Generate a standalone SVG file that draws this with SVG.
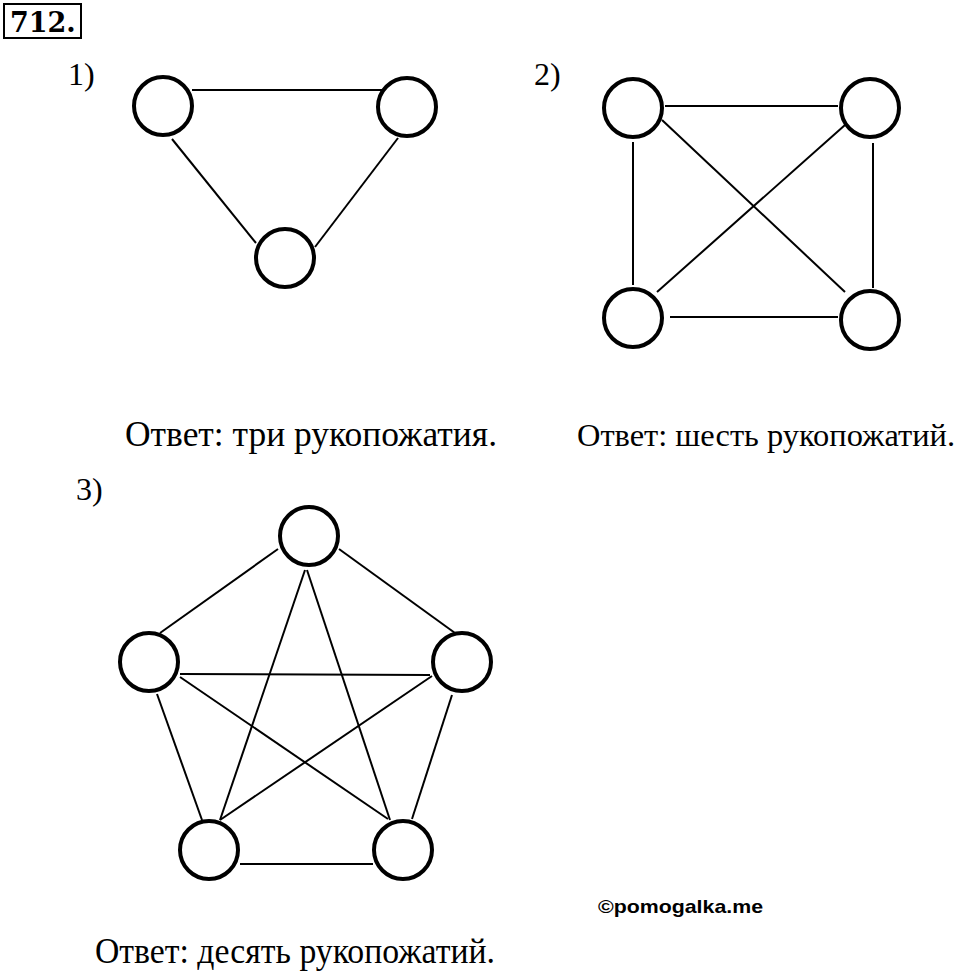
<svg xmlns="http://www.w3.org/2000/svg" width="960" height="972" viewBox="0 0 960 972">
<style>
.node{fill:#fff;stroke:#000;stroke-width:4}
.edge{stroke:#000;stroke-width:2;fill:none}
.lbl{font-family:"Liberation Serif","Times New Roman",serif;font-size:32px;fill:#000}
.ans{font-family:"Liberation Serif","Times New Roman",serif;font-size:35px;fill:#000}
</style>
<rect x="0" y="0" width="960" height="972" fill="#fff"/>
<g id="title">
<rect x="4" y="4" width="77" height="34" fill="none" stroke="#000" stroke-width="2"/>
<text x="10" y="32" font-family="DejaVu Serif, serif" font-weight="bold" font-size="27" fill="#000">712.</text>
</g>
<text class="lbl" x="68" y="85">1)</text>
<text class="lbl" x="534" y="85">2)</text>
<text class="lbl" x="76" y="500">3)</text>
<g id="connectors">
<line class="edge" x1="192" y1="90" x2="382" y2="90"/>
<line class="edge" x1="172" y1="139" x2="256" y2="243"/>
<line class="edge" x1="398" y1="138" x2="315" y2="247"/>
<line class="edge" x1="665" y1="106" x2="838" y2="106"/>
<line class="edge" x1="670" y1="317" x2="838" y2="317"/>
<line class="edge" x1="633" y1="142" x2="633" y2="285"/>
<line class="edge" x1="873" y1="143" x2="873" y2="288"/>
<line class="edge" x1="662" y1="120" x2="845" y2="292"/>
<line class="edge" x1="845" y1="125" x2="657" y2="292"/>
<line class="edge" x1="278" y1="549" x2="160" y2="633"/>
<line class="edge" x1="339" y1="549" x2="455" y2="633"/>
<line class="edge" x1="305" y1="570" x2="220" y2="820"/>
<line class="edge" x1="307" y1="570" x2="390" y2="820"/>
<line class="edge" x1="180" y1="674" x2="430" y2="675"/>
<line class="edge" x1="180" y1="677" x2="388" y2="819"/>
<line class="edge" x1="432" y1="676" x2="220" y2="820"/>
<line class="edge" x1="157" y1="694" x2="202" y2="820"/>
<line class="edge" x1="452" y1="695" x2="412" y2="819"/>
<line class="edge" x1="240" y1="864" x2="373" y2="864"/>
</g>
<g id="n1a"><circle class="node" cx="163" cy="106" r="29"/></g>
<g id="n1b"><circle class="node" cx="407" cy="107" r="29"/></g>
<g id="n1c"><circle class="node" cx="285" cy="258" r="29"/></g>
<g id="n2a"><circle class="node" cx="633" cy="108" r="29"/></g>
<g id="n2b"><circle class="node" cx="870" cy="108" r="29"/></g>
<g id="n2c"><circle class="node" cx="633" cy="318" r="29"/></g>
<g id="n2d"><circle class="node" cx="870" cy="320" r="29"/></g>
<g id="n3a"><circle class="node" cx="309" cy="536" r="29"/></g>
<g id="n3b"><circle class="node" cx="149" cy="662" r="29"/></g>
<g id="n3c"><circle class="node" cx="462" cy="662" r="29"/></g>
<g id="n3d"><circle class="node" cx="209" cy="850" r="29"/></g>
<g id="n3e"><circle class="node" cx="403" cy="850" r="29"/></g>
<text class="ans" x="125" y="446" textLength="372" lengthAdjust="spacingAndGlyphs">Ответ: три рукопожатия.</text>
<text class="ans" x="577" y="446" style="font-size:32.5px" textLength="378" lengthAdjust="spacingAndGlyphs">Ответ: шесть рукопожатий.</text>
<text class="ans" x="95" y="963" textLength="400" lengthAdjust="spacingAndGlyphs">Ответ: десять рукопожатий.</text>
<text x="598" y="913" font-family="Liberation Sans, Arial, sans-serif" font-weight="bold" font-size="19" fill="#000" textLength="165" lengthAdjust="spacingAndGlyphs">©pomogalka.me</text>
</svg>
